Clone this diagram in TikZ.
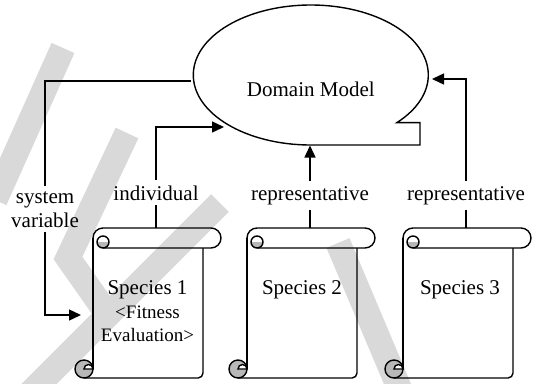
\documentclass[tikz,border=0pt]{standalone}
\usepackage{fontspec}
\setmainfont{Liberation Serif}
\usetikzlibrary{arrows.meta}
\definecolor{curlgray}{gray}{0.72}
\definecolor{wmgray}{gray}{0.85}
\tikzset{
  ln/.style={line width=1.4pt, line join=miter},
  arr/.style={ln, -{Triangle[length=12pt,width=11pt]}},
  wm/.style={line width=25pt, draw=wmgray},
  lbl/.style={font=\fontsize{21}{24}\selectfont, inner sep=5pt, anchor=base},
  big/.style={font=\fontsize{21}{24}\selectfont, inner sep=0pt, anchor=base},
  small/.style={font=\fontsize{19}{22}\selectfont, inner sep=0pt, anchor=base},
  scroll/.pic={
    \draw[ln] (18,10) arc[start angle=180,end angle=270,radius=10] -- (136,0)
      arc[start angle=270,end angle=450,radius=10] -- (28,20);
    \fill[curlgray] (34,14) arc[start angle=0,end angle=180,radius=6] -- cycle;
    \draw[ln] (28,14) circle[radius=6];
    \draw[ln] (18,10) -- (18,141);
    \draw[ln] (128,20) -- (128,145) arc[start angle=0,end angle=90,radius=5] -- (9,150);
    \filldraw[ln,fill=curlgray] (9,141) circle[radius=9];
    \filldraw[ln,fill=white] (9,141) arc[start angle=180,end angle=360,radius=4.5] -- cycle;
    \coordinate (-top) at (81,0);
  }
}
\begin{document}
\begin{tikzpicture}[x=1pt,y=-1pt]
\useasboundingbox (0,0) rectangle (545,383);
% watermark
\draw[wm] (63,48) -- (-5,200);
\draw[wm, line join=miter] (127,133) -- (68,258) -- (108,315);
\draw[wm] (220,203) -- (30,393);
\draw[wm] (338,243) -- (400,390);
% domain model
\draw[ln] (310.8,145) arc[start angle=90,end angle=402.8,x radius=117.5,y radius=70]
  -- (420,122.6) -- (420,145) -- cycle;
\node[big] (dm) at (310.8,96) {Domain Model};
\coordinate (dmL) at (191,81);
\coordinate (dmI) at (224,127);
\coordinate (dmB) at (310,145.5);
\coordinate (dmR) at (432,79);
% scrolls
\pic (sc1) at (75,228) {scroll};
\pic (sc2) at (229,228) {scroll};
\pic (sc3) at (385,228) {scroll};
\node[big] (sp1) at (147.5,294) {Species 1};
\node[small] (fit1) at (147.5,318) {<Fitness};
\node[small] (ev1) at (147.5,341) {Evaluation>};
\node[big] (sp2) at (302,294) {Species 2};
\node[big] (sp3) at (460,294) {Species 3};
% labels
\node[lbl] (sv1) at (45,203) {system};
\node[lbl] (sv2) at (45,227) {variable};
\node[lbl] (ind) at (156,200) {individual};
\node[lbl] (rep2) at (310,200) {representative};
\node[lbl] (rep3) at (466,200) {representative};
\coordinate (s1in) at (81,315);
% connectors
\draw[ln] (dmL) -| (sv1.north);
\draw[arr] (sv2.south) |- (s1in);
\draw[ln] (sc1-top) -- (ind.south);
\draw[arr] (ind.north) |- (dmI);
\draw[ln] (sc2-top) -- (rep2.south);
\draw[arr] (rep2.north) -- (dmB);
\draw[ln] (sc3-top) -- (rep3.south);
\draw[arr] (rep3.north) |- (dmR);
\end{tikzpicture}
\end{document}
